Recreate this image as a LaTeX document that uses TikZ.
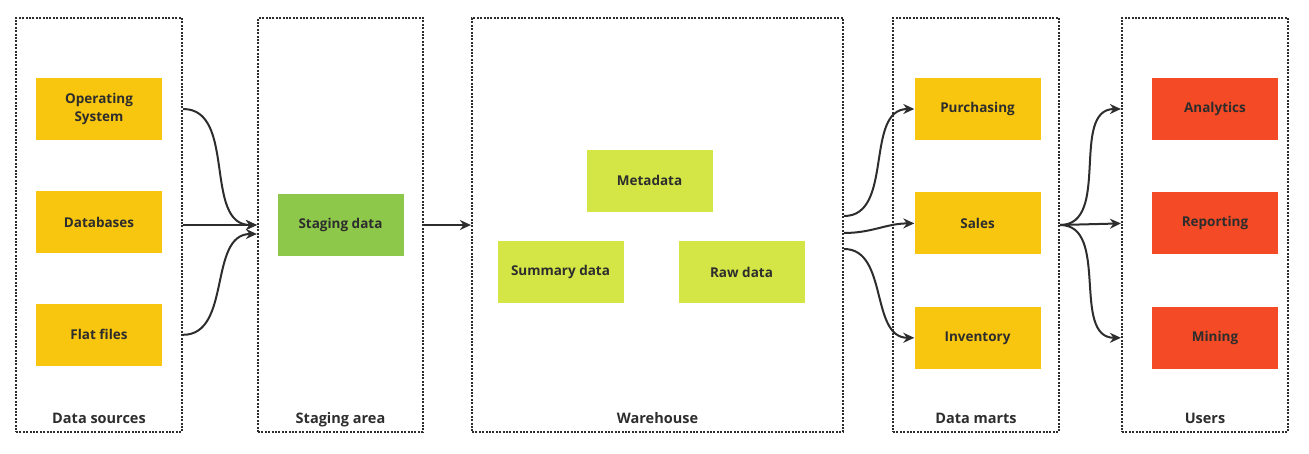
\documentclass[tikz,border=0pt]{standalone}
\usepackage{fontspec}
\setmainfont{Open Sans}
\usepackage{xcolor}
\usepackage{tikz}
\usetikzlibrary{positioning, arrows.meta}

\definecolor{ink}{HTML}{2D2D2D}
\definecolor{srcyellow}{HTML}{F8C60E}
\definecolor{stggreen}{HTML}{8DC84A}
\definecolor{whlime}{HTML}{D3E645}
\definecolor{usrred}{HTML}{F44A25}

\begin{document}
\begin{tikzpicture}[
    x=1pt, y=-1pt,
    node distance=51pt,
    zone/.style={
        draw=ink,
        line width=2.2pt,
        dash pattern=on 2pt off 1.4pt,
        minimum height=414pt
    },
    box/.style={
        minimum width=126pt,
        minimum height=62pt,
        inner sep=0pt,
        align=center,
        text=ink,
        font=\bfseries\fontsize{13.5}{18}\selectfont
    },
    title/.style={anchor=base, text=ink, font=\bfseries\fontsize{14.5}{16}\selectfont},
    arrow/.style={-{Stealth[length=11pt,width=10pt]}, line width=2pt, draw=ink}
]

\useasboundingbox (0,0) rectangle (1309,453);

% dotted areas
\node[zone, minimum width=166pt] (srczone) at (99,225) {};
\node[zone, minimum width=165pt] (stgzone) at (340.5,225) {};
\node[zone, minimum width=371pt] (whzone) at (657.5,225) {};
\node[zone, minimum width=166pt] (martzone) at (976,225) {};
\node[zone, minimum width=166pt] (usrzone) at (1205,225) {};

\node[title] (srctitle) at ([yshift=10pt]srczone.south) {Data sources};
\node[title] (stgtitle) at ([yshift=10pt]stgzone.south) {Staging area};
\node[title] (whtitle) at ([yshift=10pt]whzone.south) {Warehouse};
\node[title] (marttitle) at ([yshift=10pt]martzone.south) {Data marts};
\node[title] (usrtitle) at ([yshift=10pt]usrzone.south) {Users};

% sources
\node[box, fill=srcyellow] (os) at (99,109) {Operating\\System};
\node[box, fill=srcyellow, below=51pt of os] (db) {Databases};
\node[box, fill=srcyellow, below=50pt of db] (flat) {Flat files};

% staging
\node[box, fill=stggreen] (stgdata) at (340.5,225) {Staging data};

% warehouse
\node[box, fill=whlime] (meta) at (649.5,180.5) {Metadata};
\node[box, fill=whlime] (summ) at (560.5,272) {Summary data};
\node[box, fill=whlime] (raw) at (741.5,272) {Raw data};

% data marts
\node[box, fill=srcyellow] (purch) at (977.5,109) {Purchasing};
\node[box, fill=srcyellow, below=52pt of purch] (sales) {Sales};
\node[box, fill=srcyellow, below=52pt of sales] (inv) {Inventory};

% users
\node[box, fill=usrred] (analyt) at (1215,109) {Analytics};
\node[box, fill=usrred, below=52pt of analyt] (report) {Reporting};
\node[box, fill=usrred, below=52pt of report] (mining) {Mining};

% flows
\draw[arrow] (srczone.east |- os.east) to[out=0, in=180] (stgzone.west |- stgdata.west);
\draw[arrow] (srczone.east |- stgdata.west) -- (stgzone.west |- stgdata.west);
\draw[arrow] (srczone.east |- flat.east) to[out=0, in=180] ([yshift=-9pt]stgzone.west |- stgdata.west);

\draw[arrow] (stgzone.east |- stgdata.east) -- (whzone.west |- stgdata.east);

\draw[arrow] ([yshift=9pt]whzone.east) to[out=0, in=180] (purch.west);
\draw[arrow] ([yshift=-8pt]whzone.east) to[out=0, in=180] (sales.west);
\draw[arrow] ([yshift=-24pt]whzone.east) to[out=0, in=180] (inv.west);

\draw[arrow] (martzone.east) to[out=0, in=180] (usrzone.west |- analyt.west);
\draw[arrow] (martzone.east) -- (usrzone.west |- report.west);
\draw[arrow] (martzone.east) to[out=0, in=180] (usrzone.west |- mining.west);

\end{tikzpicture}
\end{document}
